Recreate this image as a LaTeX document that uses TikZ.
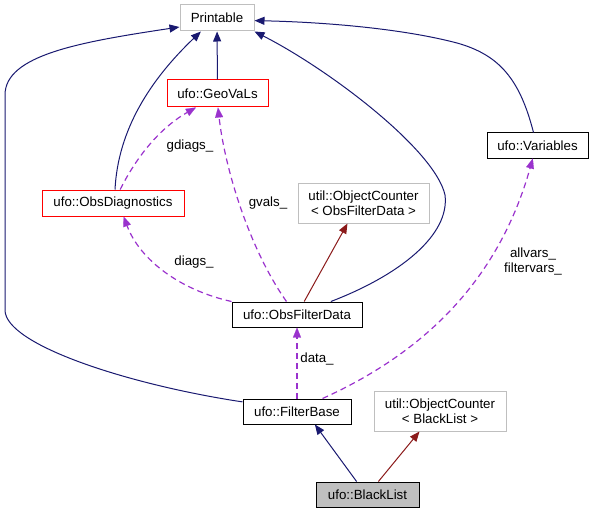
\documentclass[tikz,border=0pt]{standalone}
\usepackage{fontspec}
\setmainfont{Liberation Sans}
\usetikzlibrary{arrows.meta}

\definecolor{inhblue}{RGB}{25,25,112}
\definecolor{tmplred}{RGB}{139,26,26}
\definecolor{usepurple}{RGB}{154,50,205}
\definecolor{boxgrey}{RGB}{191,191,191}

\begin{document}
\begin{tikzpicture}[x = 1pt, y = -1pt, line width = 1pt,
    font = \fontsize{13.3}{15.5}\selectfont,
    cls/.style = {draw = black, fill = white, inner sep = 0pt, line width = 1pt, minimum height = 25pt},
    redcls/.style = {cls, draw = red},
    extcls/.style = {cls, draw = boxgrey},
    tplcls/.style = {extcls, align = center, minimum height = 40pt},
    inh/.style = {draw = inhblue, -{Triangle[length = 10pt, width = 8pt]}},
    tpl/.style = {draw = tmplred, -{Triangle[length = 10pt, width = 8pt]}},
    usage/.style = {draw = usepurple, line width = 1.2pt, dash pattern = on 6pt off 4pt,
        -{Triangle[length = 10pt, width = 8pt, fill = usepurple, line width = 0.1pt]}},
    lbl/.style = {inner sep = 0pt, align = center}]

    \useasboundingbox (0,0) rectangle (593,513);

    % classes
    \node (P) at (217,18) [extcls, minimum width = 74pt, minimum height = 26pt] {Printable};
    \node (GV) at (217.5,93.5) [redcls, minimum width = 101pt, minimum height = 27pt] {ufo::GeoVaLs};
    \node (OD) at (113,203) [redcls, minimum width = 142pt, minimum height = 26pt] {ufo::ObsDiagnostics};
    \node (V) at (537.5,145.5) [cls, minimum width = 101pt] {ufo::Variables};
    \node (OCF) at (363.5,203) [tplcls, minimum width = 131pt] {util::ObjectCounter\\< ObsFilterData >};
    \node (OFD) at (297,314.5) [cls, minimum width = 130pt] {ufo::ObsFilterData};
    \node (FB) at (297,411.5) [cls, minimum width = 108pt] {ufo::FilterBase};
    \node (OCB) at (440,411) [tplcls, minimum width = 132pt] {util::ObjectCounter\\< BlackList >};
    \node (BL) at (367.5,494.5) [cls, fill = boxgrey, minimum width = 103pt] {ufo::BlackList};

    % inheritance
    \draw[inh] (GV) -- (P);
    \draw[inh] ([xshift = 2pt]OD.north) .. controls (118,130) and (150,80) .. (P.-140);
    \draw[inh] (FB.170) .. controls (130,385) and (5,345) .. (5,310)
        -- (5,95) .. controls (5,55) and (80,42) .. (P.south west |- 0,27);
    \draw[inh] (OFD.21) .. controls (400,275) and (450,235) .. (445,195)
        .. controls (435,150) and (330,70) .. (P.south east);
    \draw[inh] ([xshift = -4pt]V.north) .. controls (520,80) and (500,55) .. (457,43)
        .. controls (400,28) and (320,22) .. (P.-4);
    \draw[inh] (BL.130) -- (FB.-36);

    % templates
    \draw[tpl] (OFD.61) -- (OCF.-128);
    \draw[tpl] (BL.50) -- (OCB.-135);

    % usage
    \draw[usage] (OD.62) .. controls (140,150) and (165,125) .. (GV.-147);
    \draw[usage] (OFD.129) .. controls (250,250) and (225,170) .. (GV.-88);
    \draw[usage] (OFD.north west) .. controls (180,290) and (140,260) .. (OD.-52);
    \draw[usage] (FB) -- (OFD);
    \draw[usage] (FB.27) .. controls (430,350) and (500,275) .. (V.-110);

    % labels
    \node (gdiags) at (190,146) [lbl] {gdiags\_};
    \node (gvals) at (268,203) [lbl] {gvals\_};
    \node (diags) at (194,262) [lbl] {diags\_};
    \node (data) at (317,359) [lbl] {data\_};
    \node (vars) at (533,261.5) [lbl] {allvars\_\\filtervars\_};

\end{tikzpicture}
\end{document}
